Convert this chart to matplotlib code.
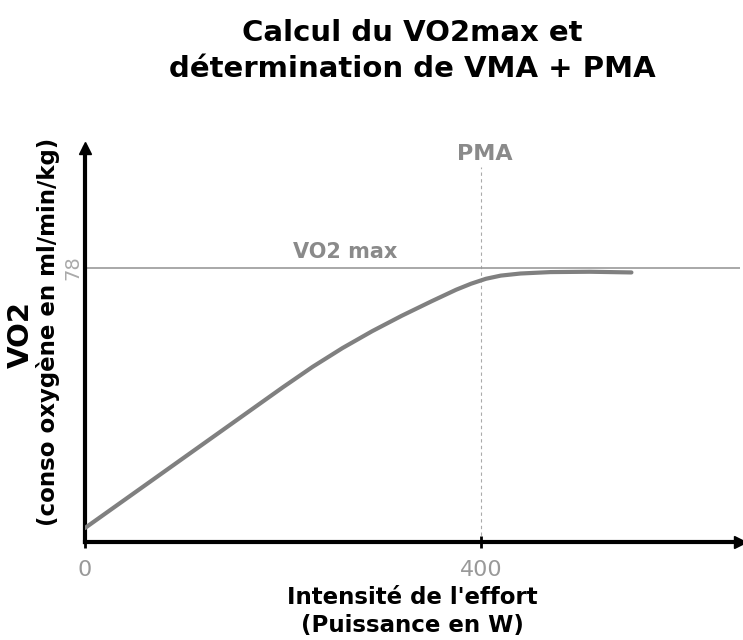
import matplotlib.pyplot as plt

# ── Data ──────────────────────────────────────────────────────────────
power_w = [0, 100, 200, 230, 260, 290, 320, 350, 375, 390, 405, 420, 440, 470, 510, 552]
vo2 = [4.0, 24.0, 44.0, 49.8, 55.1, 59.9, 64.3, 68.4, 71.7, 73.4, 74.8, 75.7, 76.3,
       76.7, 76.8, 76.6]
vo2_max = 78
pma = 400
x_ticks = [0, 400]
x_max, y_max = 662, 112

GREY = "#8a8a8a"

fig = plt.figure(figsize=(7.43, 6.4), dpi=100)
ax = fig.add_axes([0.1144, 0.153, 0.882, 0.616])
ax.set_xlim(0, x_max)
ax.set_ylim(0, y_max)

# curve + reference lines
ax.plot(power_w, vo2, color="#808080", linewidth=3, solid_capstyle="round",
        solid_joinstyle="round", zorder=3)
ax.axhline(vo2_max, color="#999999", linewidth=1.2, zorder=2)
ax.plot([pma, pma], [0, 106.5], color="#aaaaaa", linewidth=0.8,
        linestyle=(0, (3, 3)), zorder=1)

ax.text(263, vo2_max + 1.5, "VO2 max", color=GREY, fontsize=15, fontweight="bold",
        ha="center", va="bottom")
ax.text(404, 107.4, "PMA", color=GREY, fontsize=16, fontweight="bold",
        ha="center", va="bottom")

# axes drawn as arrows
for s in ["top", "right"]:
    ax.spines[s].set_visible(False)
for s in ["left", "bottom"]:
    ax.spines[s].set_linewidth(3)
    ax.spines[s].set_color("black")
ax.plot(1, 0, ">k", transform=ax.transAxes, clip_on=False, markersize=8)
ax.plot(0, 1, "^k", transform=ax.transAxes, clip_on=False, markersize=8)

ax.set_xticks(x_ticks)
ax.set_xticklabels([str(t) for t in x_ticks])
ax.tick_params(axis="x", length=8, width=2, direction="inout", colors="black",
               labelcolor="#999999", labelsize=16, pad=9)
ax.set_yticks([vo2_max])
ax.set_yticklabels([str(vo2_max)], rotation=90, va="center")
ax.tick_params(axis="y", length=0, labelcolor="#aaaaaa", labelsize=14, pad=2)

ax.set_xlabel("Intensité de l'effort\n(Puissance en W)", fontsize=16.5,
              fontweight="bold", linespacing=1.3, labelpad=4)

fig.text(0.028, 0.478, "VO2", rotation=90, fontsize=21, fontweight="bold",
         ha="center", va="center")
fig.text(0.064, 0.481, "(conso oxygène en ml/min/kg)", rotation=90, fontsize=16.5,
         fontweight="bold", ha="center", va="center")

fig.suptitle("Calcul du VO2max et\ndétermination de VMA + PMA", fontsize=21,
             fontweight="bold", x=0.555, y=0.97, linespacing=1.35)

plt.savefig("out.png", dpi=100)
